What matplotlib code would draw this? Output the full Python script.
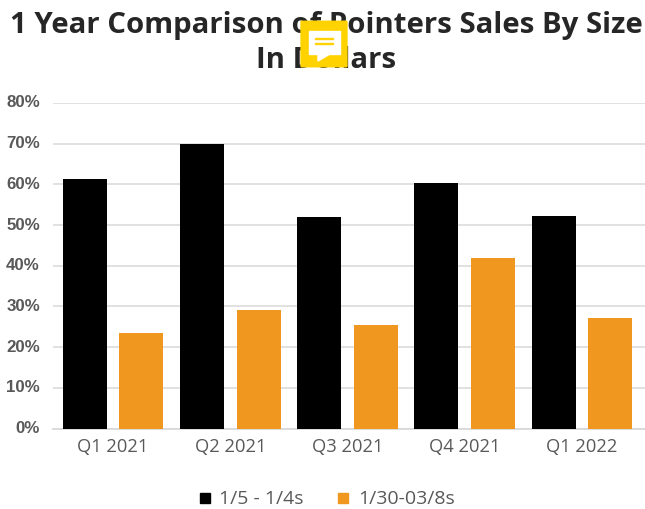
import matplotlib
matplotlib.use("Agg")
import matplotlib.pyplot as plt
import matplotlib.transforms as mtrans
import numpy as np
from matplotlib.patches import Rectangle, Polygon, FancyBboxPatch, Circle

categories = ["Q1 2021", "Q2 2021", "Q3 2021", "Q4 2021", "Q1 2022"]
series_a = [61.3, 70.0, 52.0, 60.3, 52.3]
series_b = [23.5, 29.0, 25.5, 42.0, 27.2]
name_a = "1/5 - 1/4s"
name_b = "1/30-03/8s"
yticks = [0, 10, 20, 30, 40, 50, 60, 70, 80]
title = ["1 Year Comparison of Pointers Sales By Size", "In Dollars"]

W, H = 645, 510
fig = plt.figure(figsize=(W/100, H/100), dpi=100)
L, R, T, B = 53, 645, 103.9, 429.5
ax = fig.add_axes([L/W, 1-B/H, (R-L)/W, (B-T)/H])
x = np.arange(len(categories))
step = 117.25
bw = 44/step
off = 28.3/step
ax.bar(x-off, series_a, bw, color="#000000", zorder=3)
ax.bar(x+off, series_b, bw, color="#F09720", zorder=3)
ax.set_xlim(-60/step, (R-L-60)/step)
ax.set_ylim(0, 80)
ax.set_yticks(yticks)
ax.set_yticklabels([f"{v}%" for v in yticks], fontsize=12.2, fontweight="bold", color="#595959", family="Liberation Sans")
ax.set_xticks(x)
ax.set_xticklabels(categories, fontsize=13.2, color="#595959", family="Open Sans")
ax.tick_params(axis="y", length=0, pad=9.4)
ax.tick_params(axis="x", length=0, pad=6)
shift = mtrans.ScaledTranslation(0, 2.5/100, fig.dpi_scale_trans)
for lab in ax.get_yticklabels():
    lab.set_transform(lab.get_transform() + shift)
ax.grid(axis="y", color="#D9D9D9", lw=1.1, zorder=0)
for s in ["top", "right", "left"]:
    ax.spines[s].set_visible(False)
ax.spines["bottom"].set_color("#D9D9D9")
ax.spines["bottom"].set_linewidth(1.3)
ax.spines["bottom"].set_zorder(2)
fig.text(326.5/W, 1-26/H, title[0], ha="center", va="center", fontsize=21.2, fontweight="bold", color="#262626", family="Open Sans")
fig.text(326.5/W, 1-60/H, title[1], ha="center", va="center", fontsize=21.2, fontweight="bold", color="#262626", family="Open Sans")

# legend
ly = 499
for mx, tx, c, s in [(200, 219, "#000000", name_a), (338, 358, "#F09720", name_b)]:
    fig.add_artist(Rectangle((mx/W, 1-(ly+5)/H), 10/W, 10/H, transform=fig.transFigure, color=c))
    fig.text(tx/W, 1-ly/H, s, ha="left", va="center", fontsize=14, color="#595959", family="Open Sans")

# yellow note badge
fig.add_artist(FancyBboxPatch((302/W, 1-67/H), 44/W, 44/H, boxstyle="round,pad=0.0015", transform=fig.transFigure, color="#FFD200", zorder=10))
fig.add_artist(Rectangle((309/W, 1-55/H), 31/W, 23/H, transform=fig.transFigure, color="#FFFFFF", zorder=11))
fig.add_artist(Polygon([(318/W, 1-55/H), (330/W, 1-55/H), (318/W, 1-62/H)], transform=fig.transFigure, color="#FFFFFF", zorder=11))
for y0, x1 in [(40, 333), (45, 333)]:
    fig.add_artist(Rectangle((315/W, 1-y0/H), (x1-315)/W, 1.3/H, transform=fig.transFigure, color="#FFD200", zorder=12))
fig.savefig("out.png", dpi=100)
